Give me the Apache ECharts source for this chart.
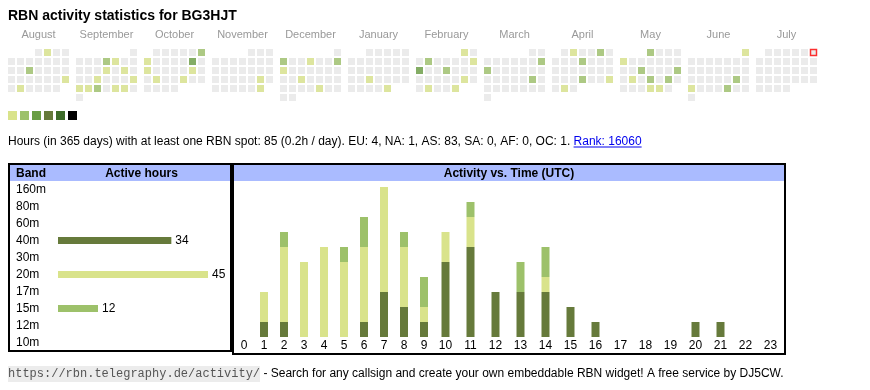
<!DOCTYPE html>
<html><head><meta charset="utf-8">
<script src="https://cdn.jsdelivr.net/npm/echarts@6/dist/echarts.min.js"></script>
<style>html,body{margin:0;padding:0;background:#fff}#c{width:870px;height:390px}</style>
</head><body><div id="c"></div>
<script>
// ---------------- data ----------------
const titleText = 'RBN activity statistics for BG3HJT';
const monthNames = ['August','September','October','November','December','January','February','March','April','May','June','July'];
const monthKeys = ['2024-08','2024-09','2024-10','2024-11','2024-12','2025-01','2025-02','2025-03','2025-04','2025-05','2025-06','2025-07'];
const activeDays = [
  ['2024-08-02',1],['2024-08-14',2],['2024-08-25',1],['2024-08-27',1],
  ['2024-09-05',2],['2024-09-06',1],['2024-09-12',1],['2024-09-14',1],['2024-09-18',1],['2024-09-22',1],
  ['2024-09-23',1],['2024-09-24',1],['2024-09-25',2],['2024-09-27',1],['2024-09-28',1],
  ['2024-10-06',2],['2024-10-07',1],['2024-10-12',3],['2024-10-14',1],['2024-10-19',1],['2024-10-22',1],['2024-10-25',1],
  ['2024-11-23',1],['2024-11-30',1],
  ['2024-12-02',2],['2024-12-05',1],['2024-12-08',2],['2024-12-09',1],['2024-12-18',1],['2024-12-27',1],
  ['2025-01-22',1],['2025-01-31',1],
  ['2025-02-01',1],['2025-02-04',2],['2025-02-09',1],['2025-02-10',3],['2025-02-13',2],['2025-02-22',1],['2025-02-25',1],['2025-02-28',1],
  ['2025-03-09',2],['2025-03-10',2],['2025-03-22',2],
  ['2025-04-02',1],['2025-04-05',2],['2025-04-10',2],['2025-04-24',2],['2025-04-27',1],['2025-04-29',1],
  ['2025-05-01',2],['2025-05-05',1],['2025-05-14',2],['2025-05-18',2],['2025-05-20',1],['2025-05-22',2],['2025-05-24',2],['2025-05-29',1],['2025-05-30',1],
  ['2025-06-01',1],['2025-06-21',2],['2025-06-23',1],['2025-06-27',2]
];
const todayDate = '2025-07-06';
const levelColors = ['#ebebeb','#d9e38b','#9dc16a','#6a9e44','#667a3b','#3d6b29','#000000'];
const summaryText = 'Hours (in 365 days) with at least one RBN spot: 85 (0.2h / day). EU: 4, NA: 1, AS: 83, SA: 0, AF: 0, OC: 1. ';
const rankText = 'Rank: 16060';
const bands = ['160m','80m','60m','40m','30m','20m','17m','15m','12m','10m'];
const bandHours = [0,0,0,34,0,45,0,12,0,0];
const bandColors = ['#3d6b29','#6a9e44','#9dc16a','#667a3b','#6a9e44','#d9e38b','#3d6b29','#9dc16a','#667a3b','#d9e38b'];
const hourLabels = ['0','1','2','3','4','5','6','7','8','9','10','11','12','13','14','15','16','17','18','19','20','21','22','23'];
const hours40m = [0,1,1,0,0,0,1,3,2,1,5,6,3,3,3,2,1,0,0,0,1,1,0,0];
const hours20m = [0,2,5,5,6,5,5,7,4,1,2,2,0,0,1,0,0,0,0,0,0,0,0,0];
const hours15m = [0,0,1,0,0,1,2,0,1,2,0,1,0,2,2,0,0,0,0,0,0,0,0,0];
const footerUrl = 'https://rbn.telegraphy.de/activity/';
const footerText = ' - Search for any callsign and create your own embeddable RBN widget! A free service by DJ5CW.';

// ---------------- layout ----------------
const FF = '"Liberation Sans", Arial, sans-serif';
const calLeft0 = 7, calPitch = 68, calTop = 48, cell = 9;
const ctx = document.createElement('canvas').getContext('2d');
function tw(t, f){ ctx.font = f; return ctx.measureText(t).width; }

const calendars = monthKeys.map((k,i)=>({
  orient:'vertical', range:k, left: calLeft0 + calPitch*i, top: calTop, cellSize:[cell,cell],
  splitLine:{show:false},
  itemStyle:{color:levelColors[0], borderColor:'#fff', borderWidth:2},
  dayLabel:{show:false, firstDay:1}, monthLabel:{show:false}, yearLabel:{show:false}, silent:true
}));

const series = [];
monthKeys.forEach((k,i)=>{
  series.push({
    type:'scatter', coordinateSystem:'calendar', calendarIndex:i, symbol:'rect', symbolSize:7, silent:true,
    data: activeDays.filter(d=>d[0].startsWith(k)),
    itemStyle:{color:p=>levelColors[p.value[1]]}
  });
});
series.push({
  type:'scatter', coordinateSystem:'calendar', calendarIndex: monthKeys.indexOf(todayDate.slice(0,7)),
  symbol:'rect', symbolSize:6, silent:true, data:[[todayDate,0]],
  itemStyle:{color:levelColors[0], borderColor:'#ff0000', borderWidth:1.5}, z:5
});

// activity vs time: two grids (1-digit hours, 2-digit hours)
const split = 10;
const bandSeries = [['40m',hours40m,'#667a3b'],['20m',hours20m,'#d9e38b'],['15m',hours15m,'#9dc16a']];
const totals = hourLabels.map((_,h)=>hours40m[h]+hours20m[h]+hours15m[h]);
const ymax = Math.max(...totals);
[0,1].forEach(g=>{
  bandSeries.forEach(([name,arr,col])=>{
    series.push({
      type:'bar', name, xAxisIndex:g, yAxisIndex:g, stack:'s'+g, barWidth:8, silent:true,
      data: g===0 ? arr.slice(0,split) : arr.slice(split),
      itemStyle:{color:col}
    });
  });
});
// band table bars
series.push({
  type:'bar', xAxisIndex:2, yAxisIndex:2, barWidth:7, silent:true, data:bandHours,
  itemStyle:{color:p=>bandColors[p.dataIndex]},
  label:{show:true, position:'right', distance:4, fontSize:12, fontFamily:FF, color:'#000',
         formatter:p=>p.value>0?String(p.value):''}
});

const hourAxis = (g, data)=>({
  type:'category', gridIndex:g, data, axisLine:{show:false}, axisTick:{show:false},
  axisLabel:{margin:3, fontSize:12, fontFamily:FF, color:'#000', interval:0}, splitLine:{show:false}
});

// graphics
const graphic = [];
function txt(x,y,text,font,fill,align,va,z){
  graphic.push({type:'text', x, y, z:z||10, silent:true,
    style:{text, font, fill, align:align||'left', verticalAlign:va||'middle', textAlign:align||'left', textVerticalAlign:va||'middle'}});
}
txt(8,16,titleText,'bold 14px '+FF,'#000');
monthNames.forEach((m,i)=>{
  txt(calLeft0 + calPitch*i + 1 + (7*cell-2)/2, 34.5, m, '11px '+FF, '#999', 'center');
});
levelColors.slice(1).forEach((c,i)=>{
  graphic.push({type:'rect', silent:true, shape:{x:8+12*i, y:111, width:9, height:9}, style:{fill:c}});
});
const sumFont = '12px '+FF;
txt(8,141.5,summaryText,sumFont,'#000');
const sw = tw(summaryText,sumFont), rw = tw(rankText,sumFont);
txt(8+sw,141.5,rankText,sumFont,'#0000ee');
graphic.push({type:'line', silent:true, shape:{x1:8+sw, y1:147, x2:8+sw+rw, y2:147}, style:{stroke:'#0000ee', lineWidth:1}});

// boxes
graphic.push({type:'rect', silent:true, z:1, shape:{x:10, y:165, width:221, height:16}, style:{fill:'#aabbff'}});
graphic.push({type:'rect', silent:true, z:1, shape:{x:234, y:165, width:551, height:16}, style:{fill:'#aabbff'}});
graphic.push({type:'rect', silent:true, z:2, shape:{x:9, y:164, width:222, height:187}, style:{fill:null, stroke:'#000', lineWidth:2}});
graphic.push({type:'rect', silent:true, z:2, shape:{x:233, y:164, width:552, height:190}, style:{fill:null, stroke:'#000', lineWidth:2}});
txt(16,173.3,'Band','bold 12px '+FF,'#000');
txt(141.5,173.3,'Active hours','bold 12px '+FF,'#000','center');
txt(509,173.3,'Activity vs. Time (UTC)','bold 12px '+FF,'#000','center');

// footer
const monoFont = '12px "Liberation Mono", "Courier New", monospace';
graphic.push({type:'text', x:8, y:374, silent:true, z:10,
  style:{text:footerUrl, font:monoFont, fill:'#555', align:'left', verticalAlign:'middle', textAlign:'left', textVerticalAlign:'middle',
         backgroundColor:'#ececec', padding:[2,0,2,0]}});
const uw = tw(footerUrl, monoFont);
txt(8+uw,374,footerText,'12px '+FF,'#000');

const chart = echarts.init(document.getElementById('c'), null, {renderer:'canvas'});
chart.setOption({
  animation:false,
  backgroundColor:'#fff',
  calendar: calendars,
  grid:[
    {left:234, top:187, width:200, height:150},
    {left:433, top:187, width:350, height:150},
    {left:58, top:181, width:150, height:170}
  ],
  xAxis:[
    hourAxis(0, hourLabels.slice(0,split)),
    hourAxis(1, hourLabels.slice(split)),
    {type:'value', gridIndex:2, min:0, max:'dataMax', show:false}
  ],
  yAxis:[
    {type:'value', gridIndex:0, min:0, max:ymax, show:false},
    {type:'value', gridIndex:1, min:0, max:ymax, show:false},
    {type:'category', gridIndex:2, data:bands, inverse:true, axisLine:{show:false}, axisTick:{show:false},
     axisLabel:{align:'left', margin:42, fontSize:12, fontFamily:FF, color:'#000', interval:0}}
  ],
  series,
  graphic
});
</script></body></html>
